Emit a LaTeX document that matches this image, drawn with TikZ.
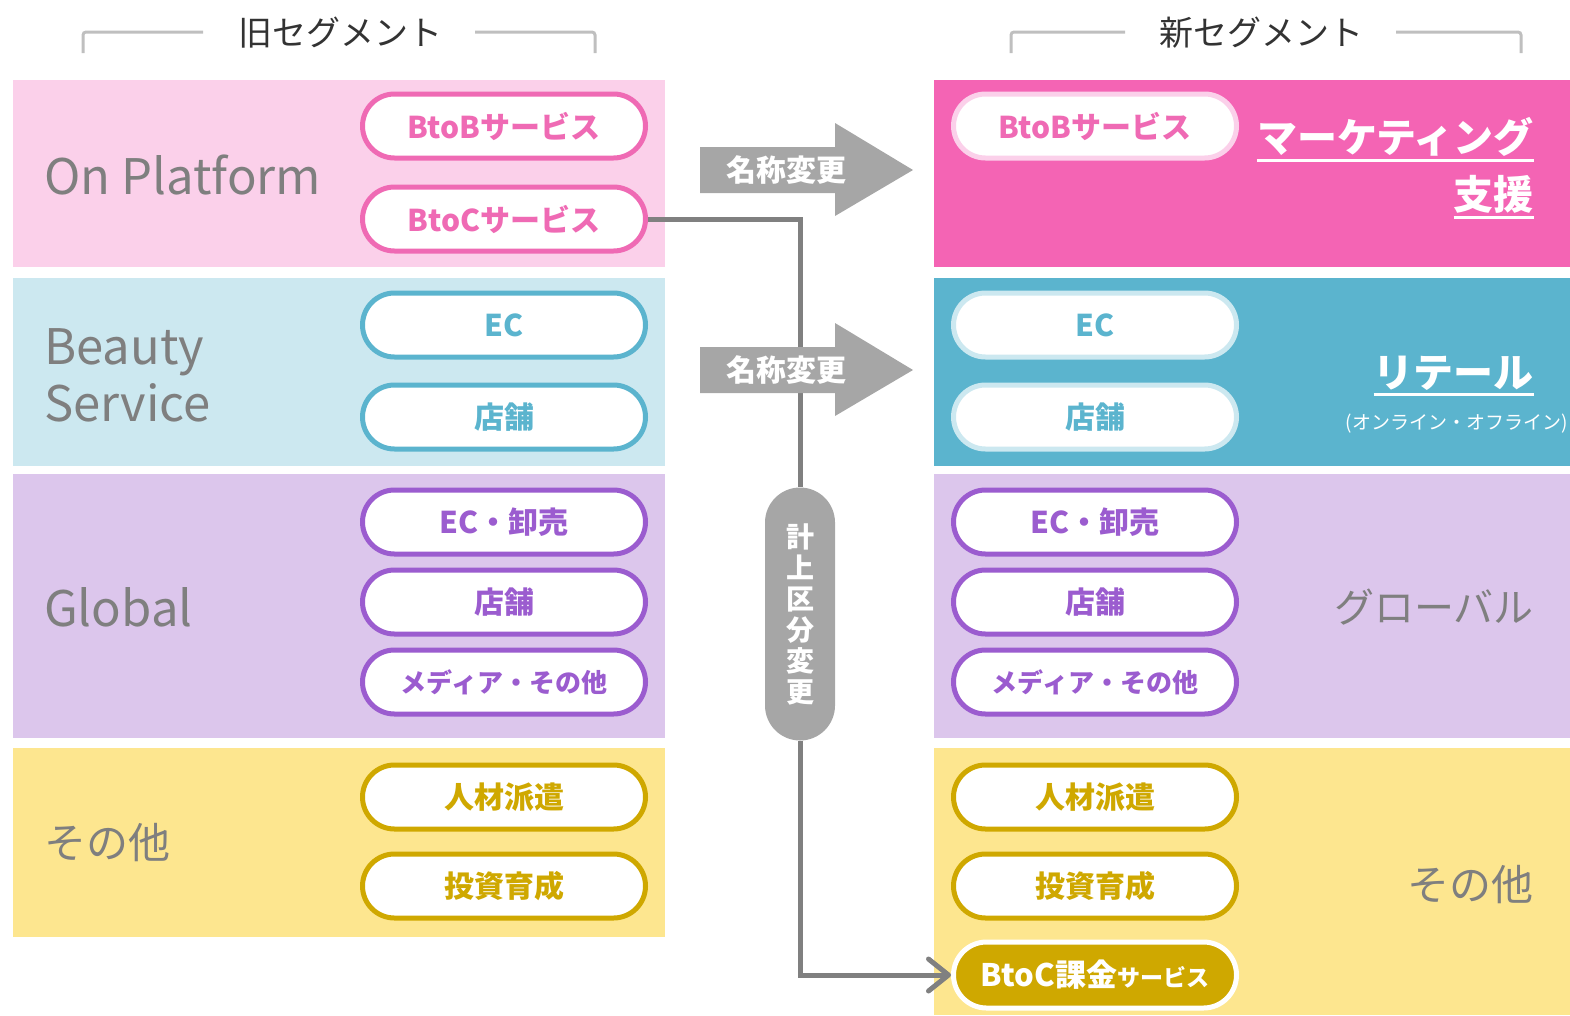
\documentclass[tikz,border=0pt]{standalone}
\usepackage{fontspec}
\setmainfont{Noto Sans CJK JP}
\usetikzlibrary{arrows.meta}
\definecolor{pinkL}{HTML}{FBD0EA}
\definecolor{pinkD}{HTML}{F464B4}
\definecolor{pinkT}{HTML}{EF6AB4}
\definecolor{blueL}{HTML}{CCE8F0}
\definecolor{blueD}{HTML}{5BB4CE}
\definecolor{purpL}{HTML}{DCC6EC}
\definecolor{purpD}{HTML}{9B5CCF}
\definecolor{yellL}{HTML}{FDE68F}
\definecolor{goldD}{HTML}{CFA800}
\definecolor{txtgray}{HTML}{7F7F7F}
\definecolor{arrgray}{HTML}{A6A6A6}
\definecolor{linegray}{HTML}{808080}
\definecolor{hdrgray}{HTML}{BFBFBF}
\definecolor{hdrtxt}{HTML}{333333}
\begin{document}
\begin{tikzpicture}[x=1pt,y=-1pt,
  band/.style={rectangle, anchor=north west, inner sep=0pt, outer sep=0pt, draw=none},
  pill/.style={rectangle, rounded corners=32pt, minimum width=283pt, minimum height=64pt,
     line width=5pt, fill=white, inner sep=0pt, font=\fontsize{30}{32}\selectfont\bfseries},
  oldlabel/.style={anchor=west, text=txtgray, font=\fontsize{49}{57}\selectfont, inner sep=0pt},
  newlabel/.style={anchor=east, text=white, font=\fontsize{40}{44}\selectfont\bfseries, inner sep=0pt},
  graylabel/.style={anchor=east, text=txtgray, font=\fontsize{40}{44}\selectfont, inner sep=0pt},
  hdr/.style={text=hdrtxt, font=\fontsize{34}{36}\selectfont, inner sep=0pt},
  hdrline/.style={draw=hdrgray, line width=3pt, rounded corners=3pt},
  blockarrow/.style={fill=arrgray, draw=none},
  arrtext/.style={text=white, font=\fontsize{30}{32}\selectfont\bfseries, inner sep=0pt},
  conn/.style={draw=linegray, line width=5pt},
  uline/.style={draw=white, line width=3pt}
]
\useasboundingbox (0,0) rectangle (1570,1015);

% headers
\node[hdr] (hold) at (340,33) {旧セグメント};
\node[hdr] (hnew) at (1261,33) {新セグメント};
\draw[hdrline] (83,53) -- (83,32) -- (203,32);
\draw[hdrline] (475,32) -- (595,32) -- (595,53);
\draw[hdrline] (1011,53) -- (1011,32) -- (1125,32);
\draw[hdrline] (1396,32) -- (1521,32) -- (1521,53);

% left bands
\node[band, fill=pinkL, minimum width=652pt, minimum height=187pt] (lb1) at (13,80) {};
\node[band, fill=blueL, minimum width=652pt, minimum height=188pt] (lb2) at (13,278) {};
\node[band, fill=purpL, minimum width=652pt, minimum height=264pt] (lb3) at (13,474) {};
\node[band, fill=yellL, minimum width=652pt, minimum height=189pt] (lb4) at (13,748) {};
% right bands
\node[band, fill=pinkD, minimum width=636pt, minimum height=187pt] (rb1) at (934,80) {};
\node[band, fill=blueD, minimum width=636pt, minimum height=188pt] (rb2) at (934,278) {};
\node[band, fill=purpL, minimum width=636pt, minimum height=264pt] (rb3) at (934,474) {};
\node[band, fill=yellL, minimum width=636pt, minimum height=267pt] (rb4) at (934,748) {};

% left labels
\node[oldlabel] (lt1) at (44,175) {On Platform};
\node[oldlabel, align=left] (lt2) at (44,375) {Beauty\\Service};
\node[oldlabel] (lt3) at (44,607) {Global};
\node[oldlabel, font=\fontsize{42}{46}\selectfont] (lt4) at (44,843) {その他};

% left pills
\node[pill, draw=pinkT, text=pinkT] (lbtob) at (504,126) {BtoBサービス};
\node[pill, draw=pinkT, text=pinkT] (lbtoc) at (504,219) {BtoCサービス};
\node[pill, draw=blueD, text=blueD] (lec) at (504,325) {EC};
\node[pill, draw=blueD, text=blueD] (lshop) at (504,417) {店舗};
\node[pill, draw=purpD, text=purpD] (lgec) at (504,522) {EC・卸売};
\node[pill, draw=purpD, text=purpD] (lgshop) at (504,602) {店舗};
\node[pill, draw=purpD, text=purpD, font=\fontsize{26}{28}\selectfont\bfseries] (lgmed) at (504,682) {メディア・その他};
\node[pill, draw=goldD, text=goldD] (lhr) at (504,797) {人材派遣};
\node[pill, draw=goldD, text=goldD] (linv) at (504,886) {投資育成};

% right pills
\node[pill, draw=pinkL, text=pinkT] (rbtob) at (1095,126) {BtoBサービス};
\node[pill, draw=blueL, text=blueD] (rec) at (1095,325) {EC};
\node[pill, draw=blueL, text=blueD] (rshop) at (1095,417) {店舗};
\node[pill, draw=purpD, text=purpD] (rgec) at (1095,522) {EC・卸売};
\node[pill, draw=purpD, text=purpD] (rgshop) at (1095,602) {店舗};
\node[pill, draw=purpD, text=purpD, font=\fontsize{26}{28}\selectfont\bfseries] (rgmed) at (1095,682) {メディア・その他};
\node[pill, draw=goldD, text=goldD] (rhr) at (1095,797) {人材派遣};
\node[pill, draw=goldD, text=goldD] (rinv) at (1095,886) {投資育成};
\node[pill, draw=white, fill=goldD, text=white, minimum height=66pt, rounded corners=33pt] (rbtoc) at (1095,975)
  {{\fontsize{31}{33}\selectfont BtoC課金}{\fontsize{23}{25}\selectfont サービス}};

% right labels
\node[newlabel] (mk) at (1534,137) {マーケティング};
\draw[uline] ([yshift=-4pt]mk.south west) -- ([yshift=-4pt]mk.south east);
\node[newlabel] (sy) at (1534,194) {支援};
\draw[uline] ([yshift=-4pt]sy.south west) -- ([yshift=-4pt]sy.south east);
\node[newlabel] (rt) at (1534,373) {リテール};
\draw[uline] ([yshift=-4pt]rt.south west) -- ([yshift=-4pt]rt.south east);
\node[anchor=east, text=white, font=\fontsize{19}{21}\selectfont, inner sep=0pt] (onoff) at (1568,424) {(オンライン・オフライン)};
\node[graylabel] (gl) at (1534,607) {グローバル};
\node[graylabel, font=\fontsize{42}{46}\selectfont] (ot) at (1534,885) {その他};

% vertical label and connector
\node[rectangle, rounded corners=35pt, fill=arrgray, minimum width=70pt, minimum height=253pt, inner sep=0pt,
  text=white, align=center, font=\fontsize{28}{31}\selectfont\bfseries] (chg) at (800,614) {計\\上\\区\\分\\変\\更};
\draw[conn] (lbtoc.east) -| (chg.north);
\draw[conn, -{Straight Barb[length=20pt,width=32pt,round]}] (chg.south) |- (rbtoc.west);

% block arrows
\fill[blockarrow] (700,147) -- (835,147) -- (835,123) -- (913,170) -- (835,216) -- (835,193) -- (700,193) -- cycle;
\node[arrtext] (ren1) at (786,170) {名称変更};
\fill[blockarrow] (700,347) -- (835,347) -- (835,323) -- (913,370) -- (835,416) -- (835,393) -- (700,393) -- cycle;
\node[arrtext] (ren2) at (786,370) {名称変更};
\end{tikzpicture}
\end{document}
